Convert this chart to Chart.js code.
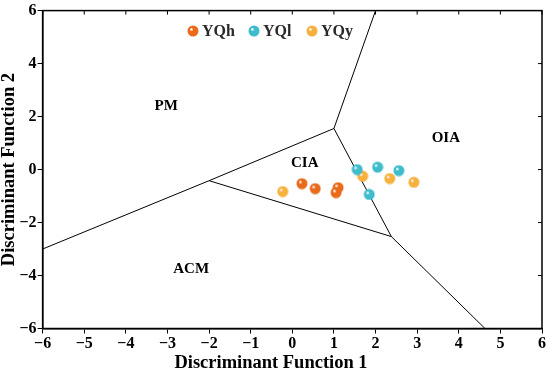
<!DOCTYPE html>
<html>
<head>
<meta charset="utf-8">
<script src="https://cdn.jsdelivr.net/npm/chart.js@4.4.1/dist/chart.umd.min.js"></script>
<style>
  html, body { margin: 0; padding: 0; background: #fff; }
  #wrap { width: 550px; height: 373px; }
</style>
</head>
<body>
<div id="wrap"><canvas id="chart"></canvas></div>
<script>
// sample points (Discriminant Function 1, Discriminant Function 2)
const yqhX = [0.23, 0.55, 1.10, 1.05];
const yqhY = [-0.53, -0.72, -0.68, -0.87];
const yqlX = [1.56, 2.05, 2.56, 1.85];
const yqlY = [0.00, 0.09, -0.04, -0.94];
const yqyX = [-0.23, 1.69, 2.34, 2.92];
const yqyY = [-0.83, -0.25, -0.34, -0.48];

const seriesNames = ['YQh', 'YQl', 'YQy'];
const seriesColors = ['#ea6a1b', '#3fbccc', '#f6b13f'];

// field boundaries (segments, null = break)
const boundX = [1.0, 2.0, null, 1.0, -2.0, null, -2.0, -6.0, null, -2.0, 2.38, null, 1.0, 2.38, null, 2.38, 4.63];
const boundY = [1.55, 6.0, null, 1.55, -0.42, null, -0.42, -3.0, null, -0.42, -2.53, null, 1.55, -2.53, null, -2.53, -6.0];

// field labels
const fieldNames = ['PM', 'OIA', 'CIA', 'ACM'];
const fieldX = [-3.03, 3.69, 0.30, -2.43];
const fieldY = [2.40, 1.20, 0.23, -3.77];

const xTicks = [-6, -5, -4, -3, -2, -1, 0, 1, 2, 3, 4, 5, 6];
const yTicks = [-6, -4, -2, 0, 2, 4, 6];

const serif = "'Liberation Serif', 'Times New Roman', serif";

function sphere(color) {
  const c = document.createElement('canvas');
  c.width = 12; c.height = 12;
  const g = c.getContext('2d');
  const grad = g.createRadialGradient(4.2, 4.2, 0.5, 6, 6, 6);
  grad.addColorStop(0, '#ffffff');
  grad.addColorStop(0.25, color);
  grad.addColorStop(1, color);
  g.fillStyle = grad;
  g.beginPath();
  g.arc(6, 6, 5.5, 0, Math.PI * 2);
  g.fill();
  return c;
}

const pts = (xs, ys) => xs.map((x, i) => ({ x: x, y: ys[i] }));
const groups = [[yqhX, yqhY], [yqlX, yqlY], [yqyX, yqyY]];
const sphereImgs = seriesColors.map(sphere);

const datasets = groups.map((g, i) => ({
  label: seriesNames[i],
  data: pts(g[0], g[1]),
  pointStyle: sphereImgs[i],
  backgroundColor: seriesColors[i],
  borderColor: seriesColors[i],
  pointRadius: 6,
  order: 0
}));

datasets.push({
  label: 'boundary',
  data: boundX.map((x, i) => (x === null ? { x: null, y: null } : { x: x, y: boundY[i] })),
  showLine: true,
  spanGaps: false,
  borderColor: '#000',
  borderWidth: 1,
  pointRadius: 0,
  order: 1
});

// legend inside the plot, top
const legendX = [193, 254, 312];
const legendY = 31;

const framePlugin = {
  id: 'frame',
  afterDatasetsDraw(chart) {
    const { ctx, chartArea: a, scales } = chart;
    ctx.save();
    ctx.strokeStyle = '#000';
    ctx.lineWidth = 1.5;
    ctx.strokeRect(a.left, a.top, a.right - a.left, a.bottom - a.top);
    ctx.lineWidth = 1;
    ctx.beginPath();
    xTicks.forEach(v => {
      const px = scales.x.getPixelForValue(v);
      ctx.moveTo(px, a.top);
      ctx.lineTo(px, a.top + 4);
    });
    yTicks.forEach(v => {
      const py = scales.y.getPixelForValue(v);
      ctx.moveTo(a.right, py);
      ctx.lineTo(a.right - 4, py);
    });
    ctx.stroke();
    ctx.fillStyle = '#000';
    ctx.font = 'bold 15px ' + serif;
    ctx.textAlign = 'center';
    ctx.textBaseline = 'middle';
    fieldNames.forEach((t, i) => {
      ctx.fillText(t, scales.x.getPixelForValue(fieldX[i]), scales.y.getPixelForValue(fieldY[i]));
    });
    // legend
    ctx.font = 'bold 16px ' + serif;
    ctx.textAlign = 'left';
    ctx.fillStyle = '#2a2a2a';
    seriesNames.forEach((t, i) => {
      ctx.drawImage(sphereImgs[i], legendX[i] - 6, legendY - 6);
      ctx.fillText(t, legendX[i] + 9, legendY + 1);
    });
    ctx.restore();
  }
};

const minus = v => String(v).replace('-', '\u2212');

new Chart(document.getElementById('chart'), {
  type: 'scatter',
  data: { datasets: datasets },
  options: {
    responsive: true,
    maintainAspectRatio: false,
    animation: false,
    layout: { padding: { top: 10, right: 8, left: 0, bottom: 0 } },
    plugins: {
      legend: { display: false },
      tooltip: { enabled: false },
      title: {
        display: true,
        position: 'bottom',
        text: 'Discriminant Function 1',
        color: '#000',
        padding: { top: 0, bottom: 1 },
        font: { family: serif, size: 18.5, weight: 'bold', lineHeight: 1 }
      }
    },
    scales: {
      x: {
        min: -6, max: 6,
        afterBuildTicks: s => { s.ticks = xTicks.map(v => ({ value: v })); },
        ticks: {
          color: '#000',
          padding: 2,
          maxRotation: 0,
          font: { family: serif, size: 16, weight: 'bold', lineHeight: 1 },
          callback: v => minus(v)
        },
        grid: { display: true, drawOnChartArea: false, drawTicks: true, tickLength: 5, color: '#000' },
        border: { display: true, color: '#000', width: 1.5 }
      },
      y: {
        min: -6, max: 6,
        afterBuildTicks: s => { s.ticks = yTicks.map(v => ({ value: v })); },
        ticks: {
          color: '#000',
          padding: 1,
          font: { family: serif, size: 16, weight: 'bold' },
          callback: v => minus(v)
        },
        grid: { display: true, drawOnChartArea: false, drawTicks: true, tickLength: 5, color: '#000' },
        border: { display: true, color: '#000', width: 1.5 },
        title: {
          display: true,
          text: 'Discriminant Function 2',
          color: '#000',
          padding: { top: 0, bottom: 0 },
          font: { family: serif, size: 18.5, weight: 'bold', lineHeight: 1 }
        }
      }
    }
  },
  plugins: [framePlugin]
});
</script>
</body>
</html>
